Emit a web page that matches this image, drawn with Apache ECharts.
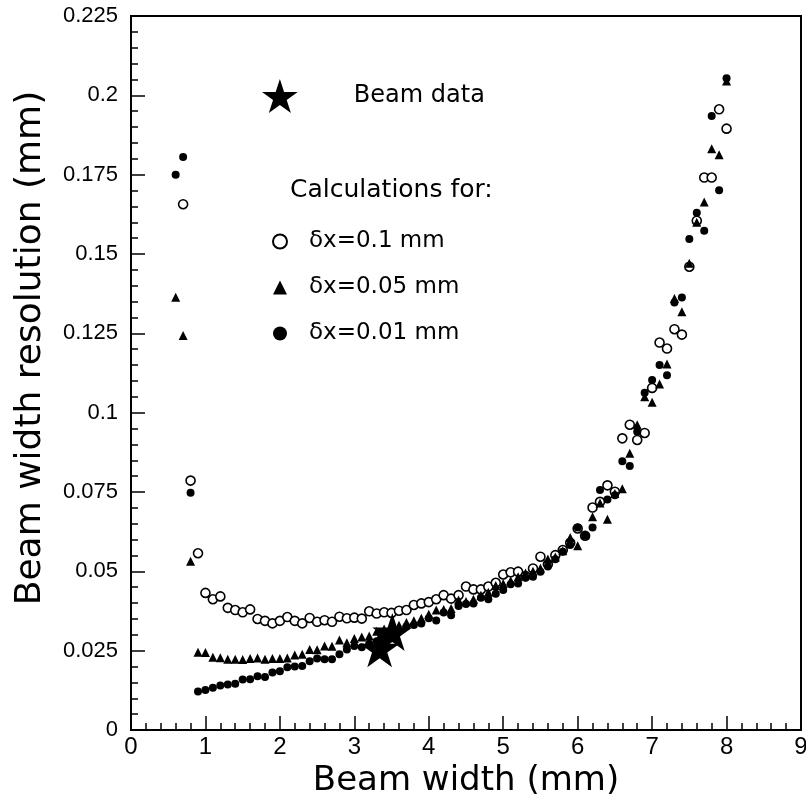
<!DOCTYPE html>
<html>
<head>
<meta charset="utf-8">
<script src="https://cdn.jsdelivr.net/npm/echarts@6/dist/echarts.min.js"></script>
<style>
  html, body { margin: 0; padding: 0; background: #fff; }
  #chart { width: 806px; height: 798px; }
</style>
</head>
<body>
<div id="chart"></div>
<script>
// beam width (mm), common x for all calculation series
var widths = [0.6, 0.7, 0.8, 0.9, 1.0, 1.1, 1.2, 1.3, 1.4, 1.5, 1.6, 1.7, 1.8, 1.9, 2.0,
  2.1, 2.2, 2.3, 2.4, 2.5, 2.6, 2.7, 2.8, 2.9, 3.0, 3.1, 3.2, 3.3, 3.4, 3.5,
  3.6, 3.7, 3.8, 3.9, 4.0, 4.1, 4.2, 4.3, 4.4, 4.5, 4.6, 4.7, 4.8, 4.9, 5.0,
  5.1, 5.2, 5.3, 5.4, 5.5, 5.6, 5.7, 5.8, 5.9, 6.0, 6.1, 6.2, 6.3, 6.4, 6.5,
  6.6, 6.7, 6.8, 6.9, 7.0, 7.1, 7.2, 7.3, 7.4, 7.5, 7.6, 7.7, 7.8, 7.9, 8.0];

// dx = 0.1 mm (open circles)
var res01 = [null, 0.1657, 0.0786, 0.0557, 0.0432, 0.0412, 0.0421, 0.0385, 0.0378, 0.0371, 0.0380, 0.0350, 0.0344, 0.0336, 0.0344,
  0.0356, 0.0344, 0.0336, 0.0353, 0.0341, 0.0346, 0.0341, 0.0357, 0.0352, 0.0354, 0.0351, 0.0374, 0.0367, 0.0371, 0.0369,
  0.0376, 0.0378, 0.0394, 0.0399, 0.0403, 0.0412, 0.0425, 0.0414, 0.0425, 0.0452, 0.0443, 0.0443, 0.0452, 0.0464, 0.0490,
  0.0497, 0.0499, 0.0485, 0.0509, 0.0546, 0.0522, 0.0551, 0.0567, 0.0590, 0.0635, 0.0612, 0.0701, 0.0719, 0.0771, 0.0751,
  0.0919, 0.0962, 0.0914, 0.0936, 0.1078, 0.1221, 0.1202, 0.1263, 0.1246, 0.1460, 0.1605, 0.1741, 0.1741, 0.1956, 0.1895];

// dx = 0.05 mm (triangles)
var res005 = [0.1364, 0.1243, 0.0532, 0.0245, 0.0244, 0.0229, 0.0228, 0.0223, 0.0223, 0.0222, 0.0225, 0.0227, 0.0223, 0.0225, 0.0225,
  0.0227, 0.0236, 0.0239, 0.0254, 0.0253, 0.0265, 0.0264, 0.0284, 0.0275, 0.0288, 0.0293, 0.0296, 0.0311, 0.0318, 0.0324,
  0.0330, 0.0339, 0.0344, 0.0352, 0.0365, 0.0378, 0.0380, 0.0383, 0.0410, 0.0405, 0.0412, 0.0425, 0.0434, 0.0455, 0.0462,
  0.0470, 0.0483, 0.0495, 0.0500, 0.0510, 0.0539, 0.0545, 0.0565, 0.0607, 0.0581, 0.0615, 0.0672, 0.0715, 0.0664, 0.0745,
  0.0760, 0.0872, 0.0962, 0.1050, 0.1033, 0.1090, 0.1153, 0.1360, 0.1318, 0.1471, 0.1600, 0.1664, 0.1832, 0.1813, 0.2045];

// dx = 0.01 mm (filled circles)
var res001 = [0.1750, 0.1806, 0.0748, 0.0121, 0.0126, 0.0133, 0.0140, 0.0143, 0.0146, 0.0159, 0.0160, 0.0169, 0.0167, 0.0181, 0.0185,
  0.0198, 0.0200, 0.0202, 0.0217, 0.0225, 0.0223, 0.0223, 0.0239, 0.0254, 0.0265, 0.0261, 0.0272, 0.0280, 0.0292, 0.0300,
  0.0312, 0.0326, 0.0331, 0.0336, 0.0352, 0.0345, 0.0370, 0.0362, 0.0391, 0.0397, 0.0399, 0.0417, 0.0412, 0.0429, 0.0441,
  0.0459, 0.0462, 0.0480, 0.0483, 0.0499, 0.0515, 0.0538, 0.0562, 0.0583, 0.0638, 0.0612, 0.0638, 0.0756, 0.0726, 0.0740,
  0.0847, 0.0832, 0.0940, 0.1063, 0.1103, 0.1150, 0.1118, 0.1347, 0.1363, 0.1547, 0.1630, 0.1573, 0.1935, 0.1701, 0.2054];

// measured beam data
var beamX = [3.34, 3.51];
var beamY = [0.0258, 0.0309];

var starPath = "path://M50 0 L61.23 34.55 L97.55 34.55 L68.17 55.9 L79.39 90.45 L50 69.1 L20.61 90.45 L31.83 55.9 L2.45 34.55 L38.77 34.55 Z";

function pairs(xs, ys) {
  var out = [];
  for (var i = 0; i < xs.length; i++) {
    if (ys[i] != null) out.push([xs[i], ys[i]]);
  }
  return out;
}

var chart = echarts.init(document.getElementById("chart"));
var font = "DejaVu Sans";

var option = {
  backgroundColor: "#fff",
  animation: false,
  grid: {
    left: 131, right: 5, top: 16, bottom: 68,
    outerBoundsMode: "none", containLabel: false,
    show: true, borderColor: "#000", borderWidth: 2
  },
  xAxis: {
    type: "value", min: 0, max: 9, interval: 1,
    name: "Beam width (mm)", nameLocation: "middle", nameGap: 26,
    nameTextStyle: { fontFamily: font, fontSize: 34, color: "#000" },
    axisLine: { lineStyle: { color: "#000", width: 2 } },
    axisTick: { inside: true, length: 14, lineStyle: { color: "#000", width: 1.5 } },
    minorTick: { show: true, splitNumber: 5, length: 7, lineStyle: { color: "#000", width: 1.5 } },
    axisLabel: { fontFamily: "Liberation Sans", fontSize: 24, color: "#000", margin: 5 },
    splitLine: { show: false }
  },
  yAxis: {
    type: "value", min: 0, max: 0.225, interval: 0.025,
    name: "Beam width resolution (mm)", nameLocation: "middle", nameGap: 82,
    nameTextStyle: { fontFamily: font, fontSize: 36, color: "#000", padding: [0, 0, 0, 50] },
    axisLine: { lineStyle: { color: "#000", width: 2 } },
    axisTick: { inside: true, length: 14, lineStyle: { color: "#000", width: 1.5 } },
    minorTick: { show: true, splitNumber: 5, length: 7, lineStyle: { color: "#000", width: 1.5 } },
    axisLabel: { fontFamily: "Liberation Sans", fontSize: 22, color: "#000", margin: 13 },
    splitLine: { show: false }
  },
  legend: [
    {
      data: ["Beam data"],
      left: 257, top: 74,
      itemWidth: 36, itemHeight: 34,
      textStyle: { fontFamily: font, fontSize: 24, color: "#000", padding: [0, 0, 0, 51] }
    },
    {
      data: ["δx=0.1 mm", "δx=0.05 mm", "δx=0.01 mm"],
      orient: "vertical",
      left: 267, top: 224,
      itemWidth: 14, itemHeight: 14, itemGap: 21,
      textStyle: { fontFamily: font, fontSize: 23, lineHeight: 25, color: "#000", padding: [0, 0, 0, 17] }
    }
  ],
  graphic: [
    {
      type: "text", left: 290, top: 178,
      style: { text: "Calculations for:", fontFamily: font, fontSize: 25, fill: "#000" }
    }
  ],
  series: [
    {
      name: "δx=0.1 mm", type: "scatter",
      symbol: "circle", symbolSize: 9,
      itemStyle: { color: "#fff", borderColor: "#000", borderWidth: 1.6, opacity: 1 },
      data: pairs(widths, res01)
    },
    {
      name: "δx=0.05 mm", type: "scatter",
      symbol: "triangle", symbolSize: 9,
      itemStyle: { color: "#000", opacity: 1 },
      data: pairs(widths, res005)
    },
    {
      name: "δx=0.01 mm", type: "scatter",
      symbol: "circle", symbolSize: 8,
      itemStyle: { color: "#000", opacity: 1 },
      data: pairs(widths, res001)
    },
    {
      name: "Beam data", type: "scatter",
      symbol: starPath, symbolSize: 40, symbolKeepAspect: true,
      itemStyle: { color: "#000", opacity: 1 },
      data: pairs(beamX, beamY)
    }
  ]
};
chart.setOption(option);
</script>
</body>
</html>
